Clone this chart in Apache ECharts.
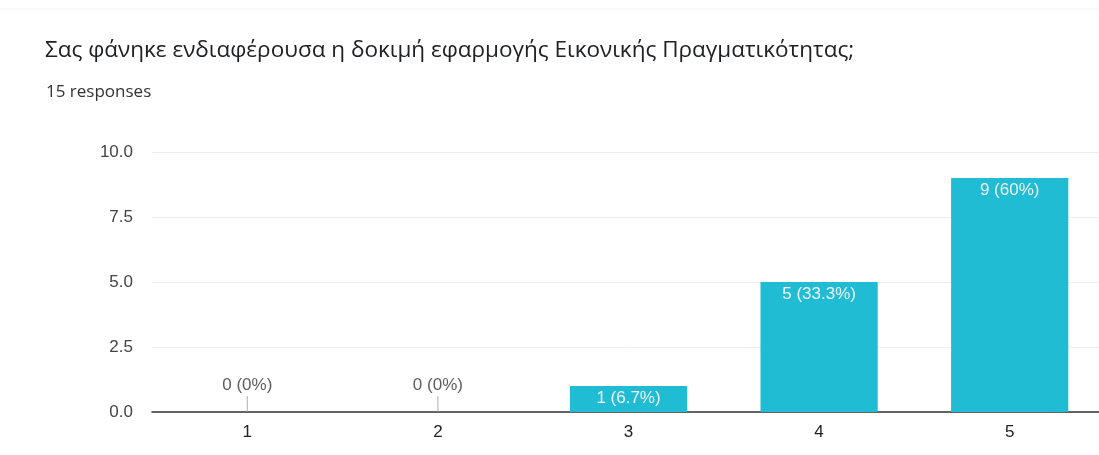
<!DOCTYPE html>
<html><head><meta charset="utf-8">
<script src="https://cdn.jsdelivr.net/npm/echarts@6/dist/echarts.min.js"></script>
<style>html,body{margin:0;padding:0;background:#fff;overflow:hidden}#c{width:1112px;height:455px}</style>
</head><body><div id="c"></div>
<script>
const titleText = 'Σας φάνηκε ενδιαφέρουσα η δοκιμή εφαρμογής Εικονικής Πραγματικότητας;';
const subtitleText = '15 responses';
const categories = ['1', '2', '3', '4', '5'];
const values = [0, 0, 1, 5, 9];
const total = 15;

function pct(v){ return Math.round(v / total * 1000) / 10; }
const barData = values.map(v => v === 0 ? null : v);
const zeroData = values.map(v => v === 0 ? 0 : null);
const chartFont = 'Liberation Sans, Arial, sans-serif';

const chart = echarts.init(document.getElementById('c'), null, {renderer: 'canvas'});
chart.setOption({
  animation: false,
  backgroundColor: '#fff',
  title: [
    {text: titleText, left: 40, top: 34, textStyle: {fontFamily: 'Open Sans, Roboto, sans-serif', fontSize: 22.5, fontWeight: 'normal', color: '#202124'}},
    {text: subtitleText, left: 41, top: 79, textStyle: {fontFamily: 'Open Sans, Roboto, sans-serif', fontSize: 17, fontWeight: 'normal', color: '#333'}}
  ],
  grid: {left: 152, top: 152, width: 953, height: 260, containLabel: false},
  xAxis: {
    type: 'category', data: categories,
    axisLine: {lineStyle: {color: '#333', width: 1.5}},
    axisTick: {show: false},
    axisLabel: {color: '#222', fontSize: 17, fontFamily: chartFont, margin: 12}
  },
  yAxis: {
    type: 'value', min: 0, max: 10, interval: 2.5,
    axisLine: {show: false}, axisTick: {show: false},
    splitLine: {lineStyle: {color: '#eeeeee'}},
    axisLabel: {color: '#444', fontSize: 17, fontFamily: chartFont, margin: 19,
      formatter: v => v.toFixed(1)}
  },
  series: [
    {
      type: 'bar', data: barData, barWidth: '61.5%',
      itemStyle: {color: '#1fbcd4'},
      label: {show: true, position: 'insideTop', distance: 4, color: '#f2f2f2', fontSize: 17,
        fontFamily: chartFont,
        formatter: p => p.value + ' (' + pct(p.value) + '%)'}
    },
    {
      type: 'scatter', data: zeroData, symbol: 'rect', symbolSize: [1, 16], symbolOffset: [0, -8],
      itemStyle: {color: '#999'}, z: 3,
      label: {show: true, position: 'top', distance: 2, color: '#333', fontSize: 17,
        fontFamily: chartFont,
        formatter: p => p.value + ' (' + pct(p.value) + '%)'}
    }
  ],
  graphic: [
    {type: 'line', shape: {x1: 0, y1: 9, x2: 1112, y2: 9}, style: {stroke: '#f2f2f2', lineWidth: 1}}
  ]
});
</script></body></html>
